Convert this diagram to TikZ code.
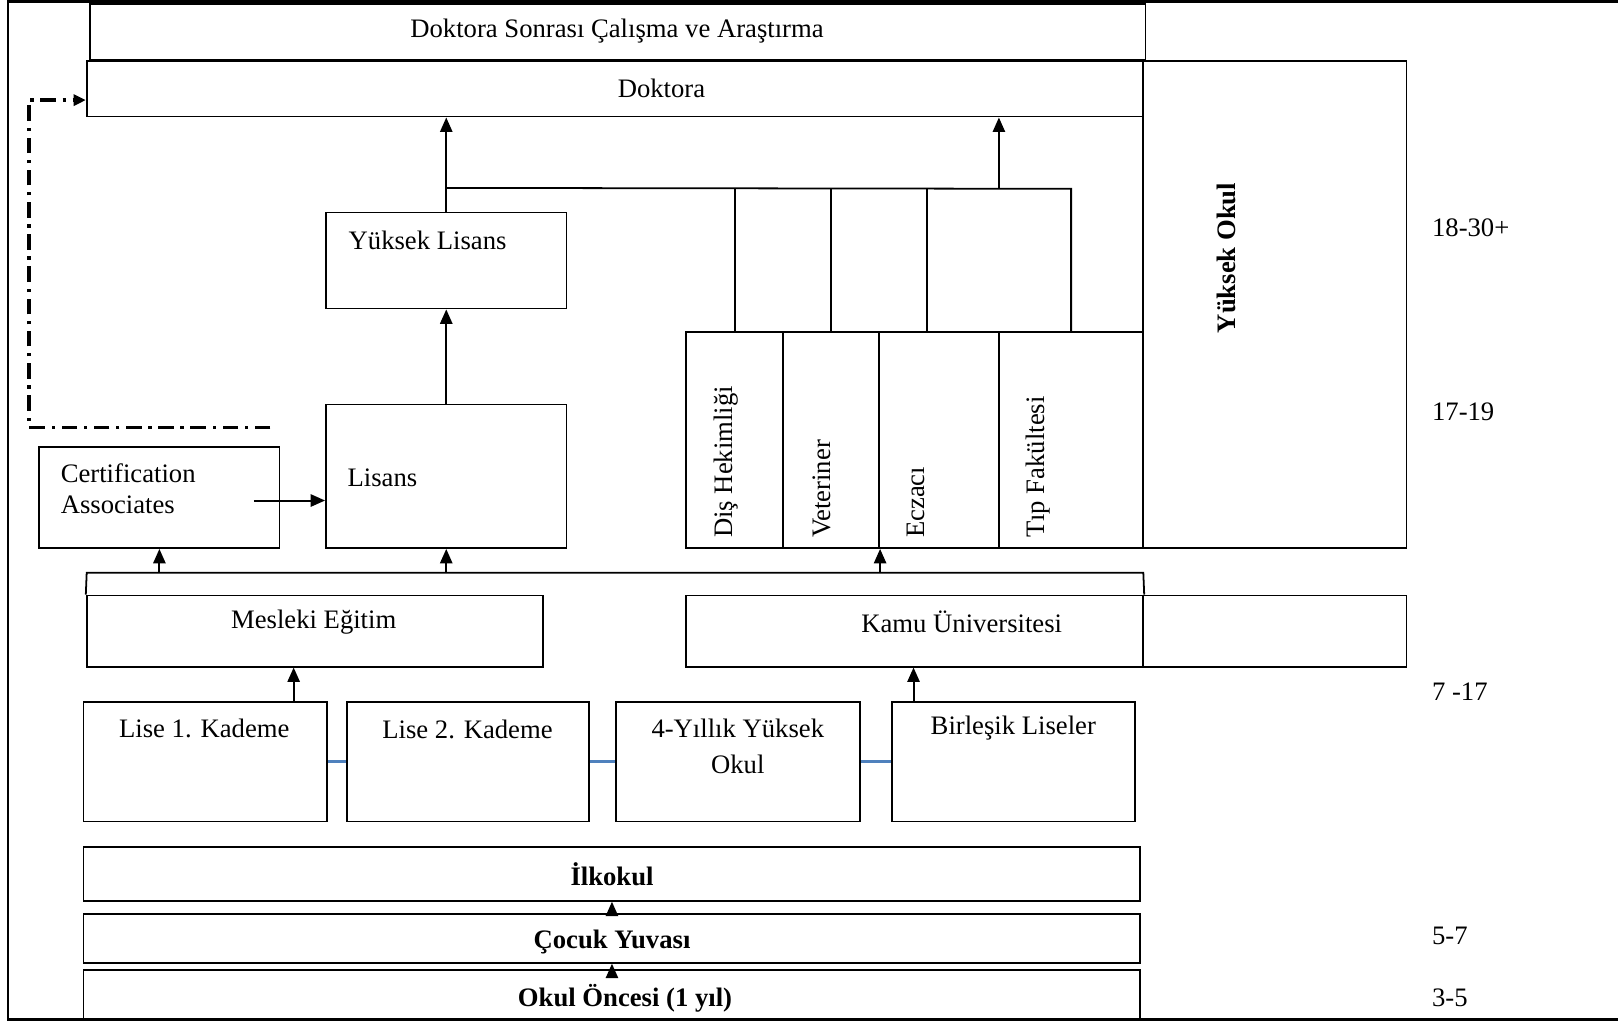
\documentclass[tikz,border=0pt]{standalone}
\usepackage{fontspec}
\setmainfont{Liberation Serif}
\usetikzlibrary{calc}
\usetikzlibrary{fit}
\usetikzlibrary{arrows.meta}
\usetikzlibrary{positioning}

\definecolor{linkblue}{HTML}{4F81BD}

\begin{document}
\begin{tikzpicture}[x=0.45pt, y=-0.45pt, line width=0.8pt,
    font=\fontsize{12}{14}\selectfont,
    blk/.style={draw, inner sep=0pt, fit={#1}},
    txt/.style={inner sep=0pt},
    heavy/.style={font=\fontsize{12}{14}\selectfont\bfseries},
    vtxt/.style={inner sep=0pt, rotate=90, anchor=west},
    age/.style={inner sep=0pt, anchor=west},
    up/.style={line width=0.9pt, -{Triangle[length=6.5pt, width=5.5pt]}},
    link/.style={draw=linkblue, line width=1pt},
    back/.style={line width=1.5pt, dash pattern=on 7pt off 3pt on 1.5pt off 3pt,
      -{Triangle[length=5.5pt, width=5pt]}}
  ]
  \useasboundingbox (0,0) rectangle (1618,1022);
  % frame, open on the right
  \draw[line width=1.2pt] (1618,1.5) -- (8,1.5) -- (8,1019.5) -- (1618,1019.5);

  % doctorate
  \node[blk={(89.8,4) (1145.4,60)}] (postdoc) {};
  \node[txt] (postdocT) at (617,31) {Doktora Sonrası Çalışma ve Araştırma};
  \node[blk={(86.7,60.9) (1143.3,116.6)}] (doktora) {};
  \node[txt] (doktoraT) at (661.5,88.7) {Doktora};
  \node[blk={(1143.3,60.9) (1406.5,548)}] (yokul) {};
  \node[txt, heavy, rotate=90] (yokulT) at (1226,258) {Yüksek Okul};

  % university
  \node[blk={(326,212.6) (566.5,308.5)}] (ylisans) {};
  \node[txt, anchor=west] (ylisansT) at (347.8,240.4) {Yüksek Lisans};
  \node[blk={(326,404.5) (566.5,548)}] (lisans) {};
  \node[txt, anchor=west] (lisansT) at (346.7,477.8) {Lisans};
  \node[blk={(39.2,446.8) (279.6,548)}] (cert) {};
  \node[txt, anchor=west, align=left] (certT) at (59.9,489) {Certification\\Associates};

  \node[blk={(686.2,332.3) (783.2,548)}] (dis) {};
  \node[blk={(783.2,332.3) (879.2,548)}] (vet) {};
  \node[blk={(879.2,332.3) (998.9,548)}] (ecz) {};
  \node[blk={(998.9,332.3) (1143.3,548)}] (tip) {};
  \node[vtxt] (disT) at (726.5,538.7) {Diş Hekimliği};
  \node[vtxt] (vetT) at (821.4,538.7) {Veteriner};
  \node[vtxt] (eczT) at (916.3,538.7) {Eczacı};
  \node[vtxt] (tipT) at (1038.1,538.7) {Tıp Fakültesi};

  \coordinate (cert out) at (253.8,500.5);
  \draw[up] (cert out) -- (cert out -| lisans.west);
  \draw[up] (lisans.north) -- (ylisans.south);
  \draw[up] (ylisans.north) -- (ylisans.north |- doktora.south);

  \coordinate (bar l) at ($(ylisans.north)+(0,-23.8)$);
  \coordinate (bar r) at (1071.1,188.8);
  \coordinate (bar t) at (998.9,188.8);
  \draw (bar l) -- (bar r) -- (bar r |- tip.north);
  \foreach \x in {734.7,830.7,926.6}
    \draw (\x,188.8) -- (\x,332.3);
  \draw[up] (bar t) -- (bar t |- doktora.south);

  \coordinate (back s) at (270.4,427.2);
  \coordinate (back c) at (28.9,100.1);
  \draw[back] (back s) -| (back c) -- (back c -| doktora.west);

  % vocational / public university
  \node[blk={(86.7,595.4) (542.8,666.6)}] (mesleki) {};
  \node[txt] (meslekiT) at (313.7,622.2) {Mesleki Eğitim};
  \node[blk={(686.2,595.4) (1143.3,666.6)}] (kamu) {};
  \node[txt] (kamuT) at (961.7,622.2) {Kamu Üniversitesi};
  \node[blk={(1143.3,595.4) (1406.5,666.6)}] (kamuR) {};

  \coordinate (bus l) at (86.7,572.7);
  \coordinate (bus r) at (1143.3,572.7);
  \draw (mesleki.north west) -- (bus l) -- (bus r) -- (kamu.north east);
  \draw[up] (cert.south |- bus l) -- (cert.south);
  \draw[up] (lisans.south |- bus l) -- (lisans.south);
  \draw[up] (vet.south east |- bus l) -- (vet.south east);

  % high schools
  \node[blk={(83.6,701.7) (327.1,821.4)}] (lise1) {};
  \node[blk={(346.7,701.7) (589.2,821.4)}] (lise2) {};
  \node[blk={(616,701.7) (859.6,821.4)}] (dort) {};
  \node[blk={(891.6,701.7) (1135.1,821.4)}] (birlesik) {};
  \node[txt] (lise1T) at (204.3,728.5) {Lise 1. Kademe};
  \node[txt] (lise2T) at (467.5,729.6) {Lise 2. Kademe};
  \node[txt, align=center, font=\fontsize{12}{16.2}\selectfont] (dortT) at (737.8,746.5) {4-Yıllık Yüksek\\Okul};
  \node[txt] (birlesikT) at (1013.3,728.5) {Birleşik Liseler};

  \draw[link] (lise1) -- (lise2);
  \draw[link] (lise2) -- (dort);
  \draw[link] (dort) -- (birlesik);

  \coordinate (l1 up) at ($(lise1.north west)!0.86!(lise1.north east)$);
  \coordinate (bl up) at ($(birlesik.north west)!0.093!(birlesik.north east)$);
  \draw[up] (l1 up) -- (l1 up |- mesleki.south);
  \draw[up] (bl up) -- (bl up |- kamu.south);

  % basic education
  \node[blk={(83.6,847.2) (1140.3,900.8)}] (ilkokul) {};
  \node[txt, heavy] (ilkokulT) at (612,874) {İlkokul};
  \node[blk={(83.6,914.3) (1140.3,962.8)}] (cocuk) {};
  \node[txt, heavy] (cocukT) at (612,942) {Çocuk Yuvası};
  \node[blk={(83.6,970) (1140.3,1019.5)}] (oncesi) {};
  \node[txt, heavy] (oncesiT) at (625,997.8) {Okul Öncesi (1 yıl)};
  \draw[up] (cocuk.north) -- (ilkokul.south);
  \draw[up] (oncesi.north) -- (cocuk.south);

  % ages
  \node[age] (age1) at (1431.2,228) {18-30+};
  \node[age] (age2) at (1431.2,411.7) {17-19};
  \node[age] (age3) at (1431.2,691.4) {7 -17};
  \node[age] (age4) at (1431.2,936) {5-7};
  \node[age] (age5) at (1431.2,997.8) {3-5};
\end{tikzpicture}
\end{document}
